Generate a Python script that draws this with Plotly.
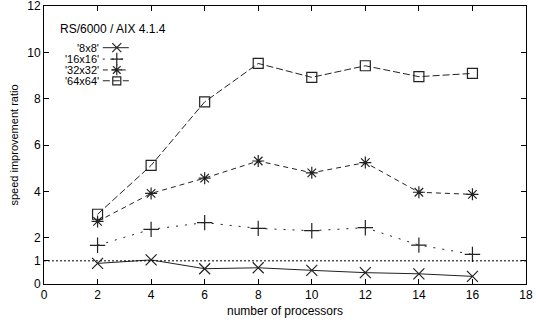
import plotly.graph_objects as go

# Processor counts and measured speed-up ratios per matrix size
processors = [2, 4, 6, 8, 10, 12, 14, 16]
ratio_8x8 = [0.89, 1.04, 0.66, 0.70, 0.59, 0.49, 0.44, 0.33]
ratio_16x16 = [1.67, 2.36, 2.65, 2.40, 2.30, 2.43, 1.68, 1.28]
ratio_32x32 = [2.70, 3.91, 4.57, 5.31, 4.80, 5.24, 3.96, 3.87]
ratio_64x64 = [3.01, 5.12, 7.86, 9.52, 8.92, 9.42, 8.95, 9.09]

series_names = ["'8x8'", "'16x16'", "'32x32'", "'64x64'"]
series_values = [ratio_8x8, ratio_16x16, ratio_32x32, ratio_64x64]
series_symbols = ["x-thin-open", "cross-thin-open", "asterisk-open", "square-open"]
series_sizes = [11, 11, 10, 10]
key_sizes = [9, 9, 9, 8]
series_dash = ["solid", "2px,7px", "5px,4px", "7px,3px"]

x_ticks = [0, 2, 4, 6, 8, 10, 12, 14, 16, 18]
y_ticks = [0, 1, 2, 4, 6, 8, 10, 12]
title_text = "RS/6000 / AIX 4.1.4"

FONT = "Liberation Sans, Arial, sans-serif"
INK = "#222222"

fig = go.Figure()

for name, vals, sym, size, dash in zip(series_names, series_values, series_symbols, series_sizes, series_dash):
    fig.add_trace(go.Scatter(
        x=processors, y=vals, mode="lines+markers", name=name,
        line=dict(color=INK, width=1, dash=dash),
        marker=dict(symbol=sym, size=size, color=INK, line=dict(color=INK, width=1.2)),
        showlegend=False,
    ))

# Reference line at ratio 1
fig.add_shape(type="line", xref="paper", yref="y", x0=0, x1=1, y0=1, y1=1,
              line=dict(color="black", width=1, dash="2px,2px"))

# Key drawn gnuplot-style: label, then a line sample with the marker
key_ax = dict(range=[0, 1], visible=False, fixedrange=True)
key_rows = [0.850, 0.809, 0.770, 0.731]
for name, sym, size, dash, ky in zip(series_names, series_symbols, key_sizes, series_dash, key_rows):
    fig.add_trace(go.Scatter(
        x=[0.122, 0.151, 0.176], y=[ky, ky, ky], xaxis="x2", yaxis="y2",
        mode="lines", line=dict(color=INK, width=1, dash=dash),
        hoverinfo="skip", showlegend=False,
    ))
    fig.add_trace(go.Scatter(
        x=[0.151], y=[ky], xaxis="x2", yaxis="y2", mode="markers",
        marker=dict(symbol=sym, size=size, color=INK, line=dict(color=INK, width=1.2)),
        hoverinfo="skip", showlegend=False,
    ))
    fig.add_annotation(xref="paper", yref="paper", x=0.116, y=ky, text=name, showarrow=False,
                       xanchor="right", yanchor="middle", borderpad=0, height=10,
                       font=dict(family=FONT, size=11, color="black"))

fig.add_annotation(xref="paper", yref="paper", x=0.031, y=0.917, text=title_text, showarrow=False,
                   xanchor="left", yanchor="middle", borderpad=0,
                   font=dict(family=FONT, size=12, color="black"))

axis_common = dict(
    showgrid=False, zeroline=False, showline=True, linecolor="black", linewidth=1,
    mirror="ticks", ticks="inside", ticklen=5, tickcolor="black", tickwidth=1,
    tickfont=dict(family=FONT, size=12, color="black"), automargin=False,
    ticklabeloverflow="allow",
)

fig.update_layout(
    width=536, height=320,
    margin=dict(l=44, r=10, t=6, b=36),
    paper_bgcolor="white", plot_bgcolor="white",
    xaxis=dict(range=[0, 18], tickvals=x_ticks,
               title=dict(text="number of processors", standoff=5,
                          font=dict(family=FONT, size=12, color="black")),
               **axis_common),
    yaxis=dict(range=[0, 12], tickvals=y_ticks,
               title=dict(text="speed improvement ratio", standoff=6,
                          font=dict(family=FONT, size=11, color="black")),
               **axis_common),
    xaxis2=dict(overlaying="x", anchor="y2", **key_ax),
    yaxis2=dict(overlaying="y", anchor="x2", **key_ax),
    showlegend=False,
)

fig.write_html("out.html")
